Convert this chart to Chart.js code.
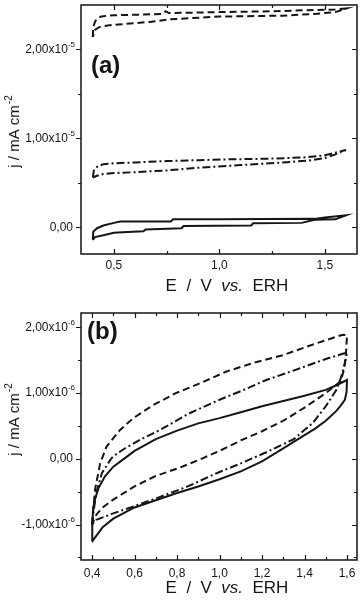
<!DOCTYPE html>
<html>
<head>
<meta charset="utf-8">
<script src="https://cdn.jsdelivr.net/npm/chart.js@4.4.1/dist/chart.umd.min.js"></script>
<style>
  html, body { margin: 0; padding: 0; background: #fff; }
  canvas { display: block; }
</style>
</head>
<body>
<canvas id="cv-a" width="362" height="300"></canvas>
<canvas id="cv-b" width="362" height="304"></canvas>
<script>
// Voltamogramas (a) y (b): j / mA cm-2 frente a E / V vs. ERH
// valores de j en unidades de 1e-5 (a) y 1e-6 (b)

/* ---------- panel (a) ---------- */
const aDashE = [0.400, 0.402, 0.410, 0.420, 0.440, 0.470, 0.500, 0.600, 0.730, 0.745, 0.760, 0.900, 1.000, 1.250, 1.400, 1.550, 1.600,
                1.550, 1.450, 1.300, 1.000, 0.770, 0.670, 0.520, 0.470, 0.430, 0.410, 0.400];
const aDashJ = [2.14, 2.25, 2.31, 2.35, 2.37, 2.38, 2.385, 2.39, 2.40, 2.43, 2.41, 2.415, 2.42, 2.43, 2.44, 2.45, 2.46,
                2.42, 2.40, 2.38, 2.37, 2.34, 2.31, 2.28, 2.27, 2.25, 2.22, 2.14];

const aDashDotE = [0.400, 0.405, 0.420, 0.450, 0.500, 0.600, 0.750, 0.900, 1.050, 1.200, 1.400, 1.500, 1.550, 1.600,
                   1.550, 1.500, 1.420, 1.300, 1.100, 0.900, 0.750, 0.600, 0.500, 0.450, 0.420, 0.400];
const aDashDotJ = [0.56, 0.64, 0.68, 0.71, 0.72, 0.73, 0.745, 0.755, 0.765, 0.77, 0.785, 0.81, 0.84, 0.87,
                   0.82, 0.78, 0.75, 0.73, 0.70, 0.67, 0.64, 0.62, 0.61, 0.60, 0.58, 0.56];

const aSolidE = [0.400, 0.402, 0.420, 0.450, 0.500, 0.530, 0.770, 0.780, 1.000, 1.450, 1.500, 1.600,
                 1.550, 1.450, 1.390, 1.160, 1.150, 0.830, 0.820, 0.650, 0.640, 0.540, 0.500, 0.450, 0.410, 0.400];
const aSolidJ = [-0.14, -0.05, -0.01, 0.02, 0.05, 0.065, 0.065, 0.09, 0.09, 0.095, 0.11, 0.135,
                 0.09, 0.085, 0.05, 0.045, 0.02, 0.015, -0.01, -0.025, -0.045, -0.055, -0.06, -0.09, -0.11, -0.14];

const aXTicks = [0.5, 1.0, 1.5];
const aXMinor = [0.75, 1.25];
const aYTicks = [0, 1, 2];
const aYMinor = [0.5, 1.5];

/* ---------- panel (b) ---------- */
const bDashE = [0.400, 0.405, 0.414, 0.438, 0.469, 0.532, 0.594, 0.689, 0.794, 0.908, 1.033, 1.159, 1.300, 1.457, 1.580, 1.600,
                1.595, 1.585, 1.570, 1.500, 1.400, 1.300, 1.200, 1.100, 1.000, 0.900, 0.800, 0.700, 0.600, 0.500, 0.450, 0.420, 0.400];
const bDashJ = [-1.00, -0.80, -0.47, -0.07, 0.19, 0.44, 0.62, 0.82, 1.00, 1.15, 1.33, 1.46, 1.58, 1.76, 1.89, 1.88,
                1.60, 1.35, 1.18, 1.00, 0.78, 0.58, 0.42, 0.28, 0.12, -0.02, -0.15, -0.26, -0.42, -0.62, -0.74, -0.85, -1.00];

const bDashDotE = [0.400, 0.405, 0.420, 0.446, 0.485, 0.500, 0.550, 0.626, 0.720, 0.850, 1.000, 1.100, 1.220, 1.380, 1.500, 1.580, 1.600,
                   1.590, 1.570, 1.550, 1.500, 1.440, 1.350, 1.220, 1.100, 1.000, 0.850, 0.720, 0.600, 0.500, 0.420, 0.400];
const bDashDotJ = [-1.00, -0.85, -0.52, -0.22, -0.02, 0.04, 0.15, 0.29, 0.44, 0.68, 0.90, 1.03, 1.20, 1.38, 1.52, 1.60, 1.62,
                   1.45, 1.22, 1.05, 0.80, 0.55, 0.30, 0.10, -0.07, -0.20, -0.42, -0.58, -0.72, -0.83, -0.93, -1.00];

const bSolidE = [0.400, 0.401, 0.405, 0.415, 0.430, 0.460, 0.500, 0.550, 0.600, 0.700, 0.800, 0.900, 1.000, 1.100, 1.200, 1.300, 1.400, 1.500, 1.550, 1.600,
                 1.598, 1.590, 1.570, 1.550, 1.500, 1.450, 1.400, 1.300, 1.200, 1.100, 1.000, 0.900, 0.800, 0.700, 0.600, 0.500, 0.450, 0.400];
const bSolidJ = [-1.26, -1.00, -0.75, -0.60, -0.45, -0.27, -0.12, 0.00, 0.12, 0.30, 0.43, 0.54, 0.62, 0.71, 0.80, 0.88, 0.96, 1.05, 1.12, 1.20,
                 1.02, 0.90, 0.81, 0.73, 0.58, 0.46, 0.36, 0.16, -0.04, -0.19, -0.31, -0.42, -0.52, -0.63, -0.74, -0.91, -1.04, -1.26];

const bXTicks = [0.4, 0.6, 0.8, 1.0, 1.2, 1.4, 1.6];
const bXMinor = [0.5, 0.7, 0.9, 1.1, 1.3, 1.5];
const bYTicks = [-1, 0, 1, 2];
const bYMinor = [-1.5, -0.5, 0.5, 1.5];

/* ---------- helpers ---------- */
const FONT = "'Liberation Sans', Arial, sans-serif";
const INK  = '#151515';
const DASH     = [7, 4];
const DASH_DOT = [8, 3, 2, 3];

function pts(es, js) {
  return es.map((e, i) => ({ x: e, y: js[i] }));
}

function curve(es, js, dash) {
  return {
    data: pts(es, js),
    borderColor: INK,
    borderWidth: 2,
    borderDash: dash,
    borderJoinStyle: 'miter',
    pointRadius: 0,
    fill: false,
    tension: 0
  };
}

function fmtX(v) { return v.toFixed(1).replace('.', ','); }

// marco, marcas, etiquetas del eje y con exponente y títulos
const framePlugin = {
  id: 'frame',
  afterDraw(chart, args, o) {
    const { ctx, chartArea: a, scales: { x, y } } = chart;
    ctx.save();
    ctx.strokeStyle = INK;
    ctx.fillStyle = INK;
    ctx.setLineDash([]);

    // marcas
    ctx.lineWidth = 1.2;
    ctx.beginPath();
    const xt = (v, len) => {
      const p = Math.round(x.getPixelForValue(v)) + 0.5;
      ctx.moveTo(p, a.bottom); ctx.lineTo(p, a.bottom - len);
      ctx.moveTo(p, a.top);    ctx.lineTo(p, a.top + len);
    };
    const yt = (v, len) => {
      const p = Math.round(y.getPixelForValue(v)) + 0.5;
      ctx.moveTo(a.left, p);  ctx.lineTo(a.left - len, p);
      ctx.moveTo(a.right, p); ctx.lineTo(a.right - len, p);
    };
    o.xTicks.forEach(v => xt(v, 5));
    o.xMinor.forEach(v => xt(v, 3));
    o.yTicks.forEach(v => yt(v, 5));
    o.yMinor.forEach(v => yt(v, 3));
    ctx.stroke();

    // marco
    ctx.lineWidth = 1.5;
    ctx.strokeRect(a.left, a.top, a.right - a.left, a.bottom - a.top);

    // etiquetas del eje y
    ctx.textBaseline = 'middle';
    ctx.textAlign = 'right';
    o.yTicks.forEach(v => {
      const p = y.getPixelForValue(v);
      if (v === 0) {
        ctx.font = '12px ' + FONT;
        ctx.fillText('0,00', a.left - 8, p);
        return;
      }
      ctx.font = '8px ' + FONT;
      const supW = ctx.measureText(o.exp).width;
      ctx.fillText(o.exp, a.left - 6, p - 5);
      ctx.font = '12px ' + FONT;
      ctx.fillText(v.toFixed(2).replace('.', ',') + 'x10', a.left - 6 - supW, p);
    });

    // título eje x: E / V vs. ERH
    const parts = [['E  /  V  ', ''], ['vs.', 'italic '], ['  ERH', '']];
    let total = 0;
    parts.forEach(pp => { ctx.font = pp[1] + '17px ' + FONT; total += ctx.measureText(pp[0]).width; });
    let cx = (a.left + a.right) / 2 + 8 - total / 2;
    ctx.textAlign = 'left';
    ctx.textBaseline = 'middle';
    parts.forEach(pp => {
      ctx.font = pp[1] + '17px ' + FONT;
      ctx.fillText(pp[0], cx, a.bottom + o.xTitleOff);
      cx += ctx.measureText(pp[0]).width;
    });

    // título eje y: j / mA cm-2
    ctx.save();
    ctx.translate(19, o.yTitleY);
    ctx.rotate(-Math.PI / 2);
    ctx.font = '15px ' + FONT;
    const base = 'j / mA cm';
    const bw = ctx.measureText(base).width;
    ctx.font = '10px ' + FONT;
    const sw = ctx.measureText('-2').width;
    ctx.textBaseline = 'alphabetic';
    ctx.textAlign = 'left';
    ctx.font = '15px ' + FONT;
    ctx.fillText(base, -(bw + sw) / 2, 0);
    ctx.font = '10px ' + FONT;
    ctx.fillText('-2', -(bw + sw) / 2 + bw + 1, -7);
    ctx.restore();

    // rótulo del panel
    ctx.font = 'bold 24px ' + FONT;
    ctx.textAlign = 'left';
    ctx.textBaseline = 'middle';
    ctx.fillText(o.label, o.labelX, o.labelY);

    ctx.restore();
  }
};

function makeChart(id, cfg) {
  const canvas = document.getElementById(id);
  return new Chart(canvas.getContext('2d'), {
    type: 'line',
    data: { datasets: cfg.datasets },
    options: {
      responsive: false,
      animation: false,
      devicePixelRatio: 1,
      layout: { padding: { left: 0, right: 5, top: cfg.top, bottom: 0 } },
      plugins: {
        legend: { display: false },
        tooltip: { enabled: false },
        frame: cfg.frame
      },
      scales: {
        x: {
          type: 'linear',
          min: cfg.xMin,
          max: cfg.xMax,
          grid: { display: false, drawTicks: false },
          border: { display: false },
          afterBuildTicks: s => { s.ticks = cfg.frame.xTicks.map(v => ({ value: v })); },
          afterFit: s => { s.height = canvas.height - cfg.bottom; },
          ticks: {
            padding: cfg.xPad,
            color: INK,
            font: { family: FONT, size: 12 },
            maxRotation: 0,
            callback: v => fmtX(v)
          }
        },
        y: {
          type: 'linear',
          min: cfg.yMin,
          max: cfg.yMax,
          grid: { display: false, drawTicks: false },
          border: { display: false },
          afterBuildTicks: s => { s.ticks = cfg.frame.yTicks.map(v => ({ value: v })); },
          afterFit: s => { s.width = 81; },
          ticks: { display: false }
        }
      }
    },
    plugins: [framePlugin]
  });
}

makeChart('cv-a', {
  datasets: [
    curve(aDashE, aDashJ, DASH),
    curve(aDashDotE, aDashDotJ, DASH_DOT),
    curve(aSolidE, aSolidJ, [])
  ],
  top: 5, bottom: 254, xPad: 4,
  xMin: 0.344, xMax: 1.652, yMin: -0.3, yMax: 2.5,
  frame: {
    xTicks: aXTicks, xMinor: aXMinor, yTicks: aYTicks, yMinor: aYMinor,
    exp: '-5', xTitleOff: 32, yTitleY: 132,
    label: '(a)', labelX: 91, labelY: 66
  }
});

makeChart('cv-b', {
  datasets: [
    curve(bDashE, bDashJ, DASH),
    curve(bDashDotE, bDashDotJ, DASH_DOT),
    curve(bSolidE, bSolidJ, [])
  ],
  top: 13, bottom: 260, xPad: 6,
  xMin: 0.348, xMax: 1.647, yMin: -1.54, yMax: 2.22,
  frame: {
    xTicks: bXTicks, xMinor: bXMinor, yTicks: bYTicks, yMinor: bYMinor,
    exp: '-6', xTitleOff: 28, yTitleY: 120,
    label: '(b)', labelX: 87, labelY: 32
  }
});
</script>
</body>
</html>
